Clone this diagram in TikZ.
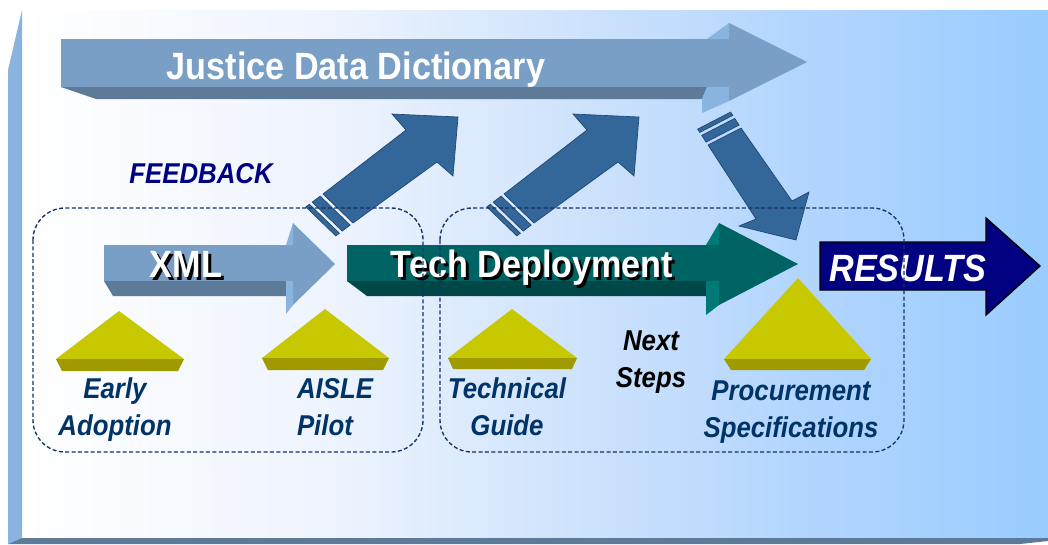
\documentclass[tikz,border=0pt]{standalone}
\usepackage{fontspec}
\setmainfont{Liberation Sans}[FakeStretch=0.9]
\definecolor{panelA}{RGB}{238,244,254}
\definecolor{panelB}{RGB}{205,226,252}
\definecolor{panelC}{RGB}{180,214,254}
\definecolor{panelD}{RGB}{153,204,255}
\pgfdeclarehorizontalshading{panelfade}{100bp}{color(0bp)=(white); color(25bp)=(white); color(40bp)=(panelA); color(52.5bp)=(panelB); color(62.5bp)=(panelC); color(75bp)=(panelD); color(100bp)=(panelD)}
\begin{document}
\begin{tikzpicture}[x=0.75pt,y=0.75pt,yscale=-1,xscale=1,
  every node/.style={inner sep=0pt,outer sep=0pt},
  bigtext/.style={font=\fontsize{28.5}{34}\selectfont\bfseries},
  smalltext/.style={font=\fontsize{21.5}{27.5}\selectfont\bfseries\itshape,align=center,text={rgb,255:red,0;green,51;blue,102}},
  slateface/.style={fill={rgb,255:red,122;green,159;blue,198}},
  slatedark/.style={fill={rgb,255:red,94;green,122;blue,153}},
  slatelight/.style={fill={rgb,255:red,138;green,180;blue,224}},
  tealface/.style={fill={rgb,255:red,0;green,99;blue,99}},
  tealdark/.style={fill={rgb,255:red,0;green,72;blue,72}},
  teallight/.style={fill={rgb,255:red,0;green,122;blue,118}},
  fbarrow/.style={fill={rgb,255:red,51;green,102;blue,153},draw={rgb,255:red,31;green,70;blue,115},line width=0.5},
  pyrtop/.style={fill={rgb,255:red,200;green,200;blue,0}},
  pyrbase/.style={fill={rgb,255:red,158;green,154;blue,0}},
  dashbox/.style={draw={rgb,255:red,20;green,50;blue,100},line width=1,dash pattern=on 3pt off 1.8pt,rounded corners=24pt}
]
\useasboundingbox (0,0) rectangle (1048,544);
%Shape: Panel
\fill[shading=panelfade] (22,10) rectangle (1048,538);
\fill[slatelight] (8,70) -- (22,10) -- (22,538) -- (8,544) -- cycle;
\fill[slatedark] (8,544) -- (22,538) -- (1048,538) -- (1048,541) -- (1020,544) -- cycle;
%Shape: Right Arrow
\fill[slateface] (61,39) -- (729,39) -- (729,23) -- (807,62) -- (729,101) -- (729,87) -- (61,87) -- cycle;
\fill[slatedark] (61,87) -- (707,87) -- (702,99) -- (96,99) -- cycle;
\fill[slatelight] (707,39) -- (729,23) -- (729,39) -- cycle;
\fill[slatelight] (707,87) -- (729,87) -- (729,101) -- (702,113) -- (702,99) -- cycle;
%Shape: Striped Arrow
\draw[fbarrow] (323,194) -- (406,130) -- (392,114) -- (458,117) -- (453,176) -- (437,162) -- (353,223) -- cycle;
\draw[fbarrow] (320.2,196.1) -- (350.2,225.1) -- (342.2,231.1) -- (312.2,202.1) -- cycle;
\draw[fbarrow] (309.4,204.2) -- (339.4,233.2) -- (335.8,235.9) -- (305.8,206.9) -- cycle;
%Shape: Striped Arrow
\begin{scope}[shift={(181,0)}]
\draw[fbarrow] (323,194) -- (406,130) -- (392,114) -- (458,117) -- (453,176) -- (437,162) -- (353,223) -- cycle;
\draw[fbarrow] (320.2,196.1) -- (350.2,225.1) -- (342.2,231.1) -- (312.2,202.1) -- cycle;
\draw[fbarrow] (309.4,204.2) -- (339.4,233.2) -- (335.8,235.9) -- (305.8,206.9) -- cycle;
\end{scope}
%Shape: Striped Arrow
\draw[fbarrow] (708,145) -- (756,219) -- (739,226) -- (796,240) -- (809,192) -- (792,201) -- (741,128) -- cycle;
\draw[fbarrow] (706.1,142.1) -- (739.1,125.1) -- (734.7,118.4) -- (701.7,135.4) -- cycle;
\draw[fbarrow] (699.8,132.4) -- (732.8,115.4) -- (730.6,112.1) -- (697.6,129.1) -- cycle;
%Shape: Right Arrow
\fill[slateface] (104,245) -- (293,245) -- (293,223) -- (335,264) -- (293,305) -- (293,281) -- (104,281) -- cycle;
\fill[slatedark] (104,281) -- (286,281) -- (286,296) -- (113,296) -- cycle;
\fill[slatelight] (286,245) -- (293,223) -- (293,245) -- cycle;
\fill[slatelight] (286,281) -- (293,281) -- (293,305) -- (286,314) -- cycle;
%Shape: Right Arrow
\fill[tealface] (347,245) -- (719,245) -- (719,223) -- (798,264) -- (719,305) -- (719,281) -- (347,281) -- cycle;
\fill[tealdark] (347,281) -- (706,281) -- (706,296) -- (367,296) -- cycle;
\fill[teallight] (706,245) -- (719,223) -- (719,245) -- cycle;
\fill[teallight] (706,281) -- (719,281) -- (719,305) -- (706,315) -- cycle;
%Shape: Right Arrow
\draw[fill={rgb,255:red,0;green,0;blue,128},draw=black,line width=1] (820,242) -- (986,242) -- (986,218) -- (1040,266) -- (986,315) -- (986,290) -- (820,290) -- cycle;
%Shape: Triangle
\fill[pyrtop] (119,311) -- (184,359) -- (56,359) -- cycle;
\fill[pyrbase] (56,359) -- (184,359) -- (178,371) -- (62,371) -- cycle;
%Shape: Triangle
\fill[pyrtop] (325,309) -- (389,358) -- (262,358) -- cycle;
\fill[pyrbase] (262,358) -- (389,358) -- (383,370) -- (268,370) -- cycle;
%Shape: Triangle
\fill[pyrtop] (512,309) -- (577,358) -- (448,358) -- cycle;
\fill[pyrbase] (448,358) -- (577,358) -- (572,369) -- (453,369) -- cycle;
%Shape: Triangle
\fill[pyrtop] (798,278) -- (871,359) -- (724,359) -- cycle;
\fill[pyrbase] (724,359) -- (871,359) -- (864,370) -- (731,370) -- cycle;
%Text
\node[bigtext,text=white,anchor=base] (jdd) at (356,79) {Justice Data Dictionary};
\node[bigtext,text=black,anchor=base] (xmlshade) at (189,280) {XML};
\node[bigtext,text=white,anchor=base] (xml) at (186,277) {XML};
\node[bigtext,text=black,anchor=base] (techshade) at (535,280) {Tech Deployment};
\node[bigtext,text=white,anchor=base] (tech) at (532,277) {Tech Deployment};
\node[bigtext,font=\fontsize{28.5}{34}\selectfont\bfseries\itshape,text=white,anchor=base] (results) at (908,281) {RESULTS};
\node[smalltext,text={rgb,255:red,0;green,0;blue,128},anchor=base] (feedback) at (201,183) {FEEDBACK};
\node[smalltext,anchor=base] (early) at (115,435) {Early\\Adoption};
\node[smalltext,align=left,anchor=base west] (aisle) at (297,435) {AISLE\\Pilot};
\node[smalltext,anchor=base] (guide) at (507,435) {Technical\\Guide};
\node[smalltext,text=black,anchor=base] (next) at (651,387) {Next\\Steps};
\node[smalltext,anchor=base] (procure) at (791,437) {Procurement\\Specifications};
%Rounded Rect
\draw[dashbox] (33,208) rectangle (423,452);
\draw[dashbox] (440,208) rectangle (904,452);
\end{tikzpicture}
\end{document}
